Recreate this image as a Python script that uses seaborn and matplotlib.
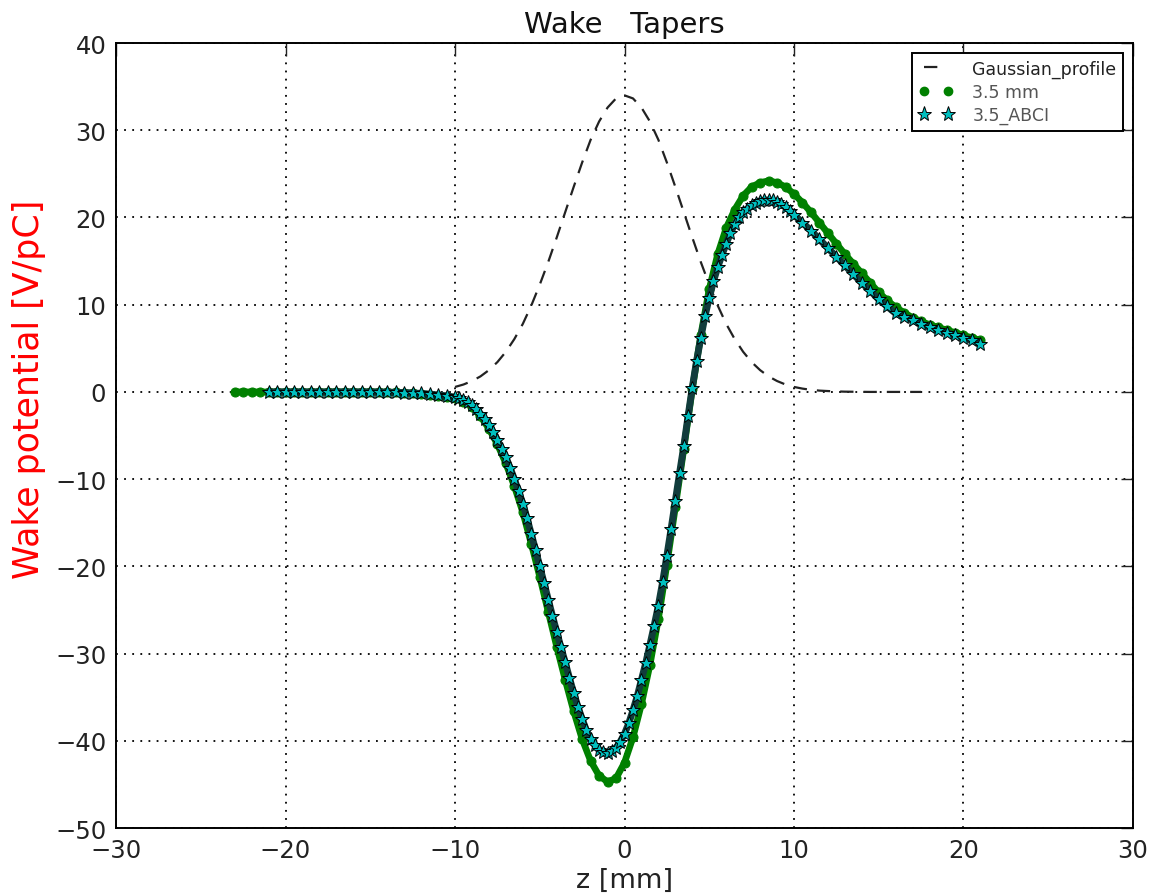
import numpy as np
import pandas as pd
import seaborn as sns
import matplotlib.pyplot as plt
from matplotlib.lines import Line2D

# gaussian bunch profile (scaled)
z_gauss = [-10.0, -9.5, -9.0, -8.5, -8.0, -7.5, -7.0, -6.5, -6.0, -5.5, -5.0, -4.5, -4.0, -3.5,
           -3.0, -2.5, -2.0, -1.5, -1.0, -0.5, 0.0, 0.5, 1.0, 1.5, 2.0, 2.5, 3.0, 3.5,
           4.0, 4.5, 5.0, 5.5, 6.0, 6.5, 7.0, 7.5, 8.0, 8.5, 9.0, 9.5, 10.0, 10.5,
           11.0, 11.5, 12.0, 12.5, 13.0, 13.5, 14.0, 14.5, 15.0, 15.5, 16.0, 16.5, 17.0, 17.5]
gauss = [0.57, 0.85, 1.25, 1.78, 2.5, 3.42, 4.6, 6.06, 7.8, 9.9, 12.3, 14.9, 17.7, 20.6,
         23.5, 26.3, 28.9, 31.0, 32.6, 33.65, 34.0, 33.65, 32.6, 31.0, 28.9, 26.3, 23.5, 20.6,
         17.7, 14.9, 12.3, 9.9, 7.8, 6.06, 4.6, 3.42, 2.5, 1.78, 1.25, 0.85, 0.57, 0.38,
         0.24, 0.15, 0.1, 0.06, 0.03, 0.02, 0.01, 0.0, 0.0, 0.0, 0.0, 0.0, 0.0, 0.0]

# 3.5 mm taper wake
z_35 = [-23.0, -22.5, -22.0, -21.5, -21.0, -20.5, -20.0, -19.5, -19.0, -18.5, -18.0, -17.5,
        -17.0, -16.5, -16.0, -15.5, -15.0, -14.5, -14.0, -13.5, -13.0, -12.5, -12.0, -11.5,
        -11.0, -10.5, -10.0, -9.5, -9.0, -8.5, -8.0, -7.5, -7.0, -6.5, -6.0, -5.5,
        -5.0, -4.5, -4.0, -3.5, -3.0, -2.5, -2.0, -1.5, -1.0, -0.5, 0.0, 0.5,
        1.0, 1.5, 2.0, 2.5, 3.0, 3.5, 4.0, 4.5, 5.0, 5.5, 6.0, 6.5,
        7.0, 7.5, 8.0, 8.5, 9.0, 9.5, 10.0, 10.5, 11.0, 11.5, 12.0, 12.5,
        13.0, 13.5, 14.0, 14.5, 15.0, 15.5, 16.0, 16.5, 17.0, 17.5, 18.0, 18.5,
        19.0, 19.5, 20.0, 20.5, 21.0]
wake_35 = [0.0, 0.0, 0.0, 0.0, 0.0, 0.0, 0.0, 0.0, 0.0, 0.0, 0.0, 0.0,
           0.0, 0.0, 0.0, 0.0, 0.0, 0.0, -0.05, -0.05, -0.1, -0.15, -0.2, -0.3,
           -0.45, -0.6, -0.7, -1.1, -1.7, -2.8, -4.2, -6.0, -8.2, -10.8, -13.8, -17.4,
           -21.2, -25.2, -29.2, -33.0, -36.6, -39.8, -42.3, -44.0, -44.7, -44.3, -42.5, -39.6,
           -35.8, -31.3, -26.0, -19.8, -13.2, -6.5, 0.3, 6.5, 11.8, 15.8, 18.8, 20.9,
           22.5, 23.5, 24.0, 24.2, 24.0, 23.5, 22.7, 21.7, 20.6, 19.4, 18.2, 17.0,
           15.8, 14.7, 13.6, 12.5, 11.4, 10.5, 9.7, 9.1, 8.5, 8.1, 7.7, 7.4,
           7.1, 6.8, 6.5, 6.2, 5.9]

# ABCI reference (finer sampling around the bunch)
z_abci = [-21.0, -20.5, -20.0, -19.5, -19.0, -18.5, -18.0, -17.5, -17.0, -16.5, -16.0,
          -15.5, -15.0, -14.5, -14.0, -13.5, -13.0, -12.5, -12.0, -11.5, -11.0, -10.5,
          -10.0, -9.75, -9.5, -9.25, -9.0, -8.75, -8.5, -8.25, -8.0, -7.75, -7.5, -7.25,
          -7.0, -6.75, -6.5, -6.25, -6.0, -5.75, -5.5, -5.25, -5.0, -4.75, -4.5, -4.25,
          -4.0, -3.75, -3.5, -3.25, -3.0, -2.75, -2.5, -2.25, -2.0, -1.75, -1.5, -1.25,
          -1.0, -0.75, -0.5, -0.25, 0.0, 0.25, 0.5, 0.75, 1.0, 1.25, 1.5, 1.75,
          2.0, 2.25, 2.5, 2.75, 3.0, 3.25, 3.5, 3.75, 4.0, 4.25, 4.5, 4.75,
          5.0, 5.25, 5.5, 5.75, 6.0, 6.25, 6.5, 6.75, 7.0, 7.25, 7.5, 7.75,
          8.0, 8.25, 8.5, 8.75, 9.0, 9.25, 9.5, 9.75, 10.0,
          10.5, 11.0, 11.5, 12.0, 12.5, 13.0, 13.5, 14.0, 14.5, 15.0, 15.5,
          16.0, 16.5, 17.0, 17.5, 18.0, 18.5, 19.0, 19.5, 20.0, 20.5, 21.0]
wake_abci = [0.0, 0.0, 0.0, 0.0, 0.0, 0.0, 0.0, 0.0, 0.0, 0.0, 0.0,
             0.0, 0.0, 0.0, -0.02, -0.05, -0.08, -0.12, -0.18, -0.25, -0.35, -0.45,
             -0.6, -0.75, -0.95, -1.2, -1.5, -1.95, -2.5, -3.1, -3.8, -4.6, -5.5, -6.5,
             -7.5, -8.7, -10.0, -11.4, -12.8, -14.5, -16.3, -18.1, -20.0, -21.9, -23.8, -25.7,
             -27.5, -29.3, -31.0, -32.8, -34.5, -36.1, -37.5, -38.8, -39.8, -40.5, -41.0, -41.3,
             -41.4, -41.2, -40.8, -40.1, -39.2, -38.0, -36.5, -34.9, -33.0, -31.1, -29.0, -26.8,
             -24.5, -21.8, -18.8, -15.7, -12.5, -9.3, -6.2, -2.8, 0.5, 3.5, 6.2, 8.7,
             10.8, 12.7, 14.3, 15.7, 17.0, 18.2, 19.2, 20.0, 20.6, 21.0, 21.4, 21.7,
             21.9, 22.0, 22.0, 21.95, 21.8, 21.5, 21.2, 20.8, 20.3,
             19.4, 18.5, 17.5, 16.5, 15.5, 14.5, 13.5, 12.5, 11.6, 10.6, 9.8,
             9.0, 8.6, 8.2, 7.8, 7.4, 7.1, 6.8, 6.5, 6.2, 5.9, 5.5]

sns.set_style("white")
plt.rcParams['font.family'] = ['DejaVu Sans']

fig = plt.figure(figsize=(11.5, 8.95), dpi=100)
ax = fig.add_axes([0.1009, 0.0737, 0.8843, 0.8771])

sns.lineplot(x=z_gauss, y=gauss, color='#222222', linewidth=1.6, ax=ax)
ax.lines[-1].set_dashes((6, 4.5))

sns.lineplot(x=z_35, y=wake_35, color='g', linewidth=4.8, marker='o', markersize=6.5,
             markeredgecolor='g', ax=ax)
sns.lineplot(x=z_abci, y=wake_abci, color='#113c3c', linewidth=5, marker='*', markersize=10,
             markerfacecolor='c', markeredgecolor='k', markeredgewidth=0.7, ax=ax)

ax.set_xlim(-30, 30)
ax.set_ylim(-50, 40)
ax.set_xticks([-30, -20, -10, 0, 10, 20, 30])
ax.set_yticks([-50, -40, -30, -20, -10, 0, 10, 20, 30, 40])
ax.grid(True, color='k', linewidth=1.3, linestyle=(0, (1, 3.5)))
ax.set_axisbelow(True)
ax.tick_params(direction='in', top=True, right=True, length=9, width=1, labelsize=17.5, pad=7,
               colors='#222222')
for s in ax.spines.values():
    s.set_linewidth(1.4)
    s.set_color('k')

ax.set_title("Wake   Tapers", fontsize=21, pad=8, color='#111111')
ax.set_xlabel("z [mm]", fontsize=19.5, color='#222222', labelpad=4)
ax.set_ylabel("Wake potential [V/pC]", fontsize=25, color='red')
ax.yaxis.set_label_coords(-0.069, 0.56)

handles = [
    Line2D([], [], color='#222222', linestyle='--', dashes=(6, 30), linewidth=1.6),
    Line2D([], [], color='g', linestyle='none', marker='o', markersize=6),
    Line2D([], [], color='c', linestyle='none', marker='*', markersize=11,
           markeredgecolor='k', markeredgewidth=0.7),
]
leg = ax.legend(handles, ["Gaussian_profile", "3.5 mm", "3.5_ABCI"], loc='upper right',
                fontsize=12.5, numpoints=2, fancybox=False, framealpha=1, edgecolor='k',
                borderaxespad=0.6, borderpad=0.35, labelspacing=0.3, handlelength=2.0,
                handletextpad=1.1)
leg.get_frame().set_linewidth(1.4)
for t, c in zip(leg.get_texts(), ['#222222', '#555555', '#555555']):
    t.set_color(c)

fig.savefig("out.png", dpi=100)
